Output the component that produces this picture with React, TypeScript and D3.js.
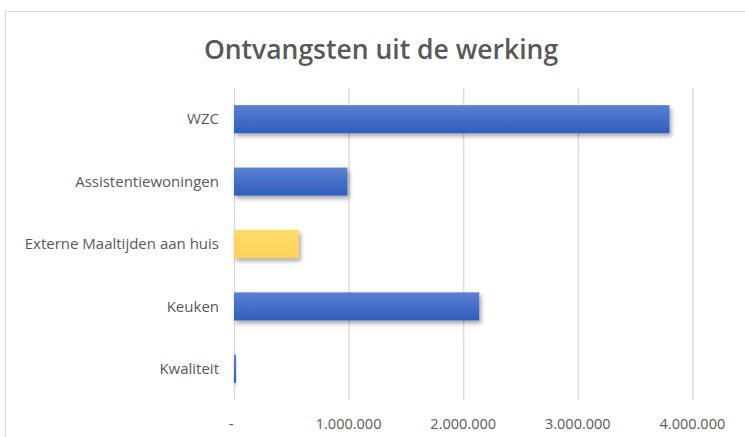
import React, { useEffect, useRef } from "react";
import * as d3 from "d3";

const categories = ["WZC", "Assistentiewoningen", "Externe Maaltijden aan huis", "Keuken", "Kwaliteit"];
const values = [3800000, 990000, 565000, 2140000, 15000];
const highlighted = ["Externe Maaltijden aan huis"];
const tickValues = [0, 1000000, 2000000, 3000000, 4000000];
const tickLabels = ["-", "1.000.000", "2.000.000", "3.000.000", "4.000.000"];

const App = () => {
  const ref = useRef<SVGSVGElement>(null);

  useEffect(() => {
    const width = 745;
    const height = 437;
    const margin = { top: 88, right: 52, bottom: 37, left: 234 };
    const font = "'Open Sans', sans-serif";

    const svg = d3.select(ref.current).attr("width", width).attr("height", height);
    svg.selectAll("*").remove();

    const defs = svg.append("defs");
    const grads = [
      { id: "gBlue", top: "#5b80d2", bottom: "#2f5ebd" },
      { id: "gYellow", top: "#ffda6a", bottom: "#fbd35a" },
    ];
    grads.forEach((g) => {
      const lg = defs.append("linearGradient").attr("id", g.id).attr("x1", 0).attr("y1", 0).attr("x2", 0).attr("y2", 1);
      lg.append("stop").attr("offset", "0%").attr("stop-color", g.top);
      lg.append("stop").attr("offset", "100%").attr("stop-color", g.bottom);
    });
    const f = defs.append("filter").attr("id", "shadow").attr("x", "-10%").attr("y", "-20%").attr("width", "130%").attr("height", "160%");
    f.append("feDropShadow").attr("dx", 2).attr("dy", 3).attr("stdDeviation", 2).attr("flood-color", "#000").attr("flood-opacity", 0.35);

    // chart frame
    svg.append("rect")
      .attr("x", 5.5).attr("y", 11.5)
      .attr("width", 752).attr("height", 440)
      .attr("fill", "white").attr("stroke", "#d9d9d9");

    svg.append("text")
      .attr("x", 381).attr("y", 59)
      .attr("text-anchor", "middle")
      .attr("font-family", font).attr("font-size", 26.5).attr("font-weight", 600)
      .attr("fill", "#595959")
      .text("Ontvangsten uit de werking");

    const x = d3.scaleLinear().domain([0, 4000000]).range([margin.left, margin.left + 4 * 114.6]);
    const y = d3.scaleBand().domain(categories).range([margin.top, height - margin.bottom]).paddingInner(0.55).paddingOuter(0.275);

    svg.append("g")
      .selectAll("line")
      .data(tickValues)
      .join("line")
      .attr("x1", (d) => x(d) + 0.5).attr("x2", (d) => x(d) + 0.5)
      .attr("y1", margin.top).attr("y2", height - margin.bottom)
      .attr("stroke", "#d9d9d9").attr("stroke-width", 1.3);

    svg.append("g")
      .selectAll("rect")
      .data(categories)
      .join("rect")
      .attr("x", x(0))
      .attr("y", (d) => y(d)!)
      .attr("width", (d, i) => Math.max(2, x(values[i]) - x(0)))
      .attr("height", y.bandwidth())
      .attr("fill", (d) => (highlighted.includes(d) ? "url(#gYellow)" : "url(#gBlue)"))
      .attr("filter", "url(#shadow)");

    svg.append("g")
      .selectAll("text")
      .data(categories)
      .join("text")
      .attr("x", margin.left - 15)
      .attr("y", (d) => y(d)! + y.bandwidth() / 2)
      .attr("dy", "0.35em")
      .attr("text-anchor", "end")
      .attr("font-family", font).attr("font-size", 15)
      .attr("fill", "#595959")
      .text((d) => d);

    svg.append("g")
      .selectAll("text")
      .data(tickValues)
      .join("text")
      .attr("x", (d) => x(d) + (d === 0 ? -3 : 0))
      .attr("y", 429)
      .attr("text-anchor", "middle")
      .attr("font-family", font).attr("font-size", 14.5)
      .attr("fill", "#595959")
      .text((d, i) => tickLabels[i]);
  }, []);

  return (
    <svg ref={ref} style={{ position: "absolute", left: 0, top: 0, display: "block" }}></svg>
  );
};

export default App;
